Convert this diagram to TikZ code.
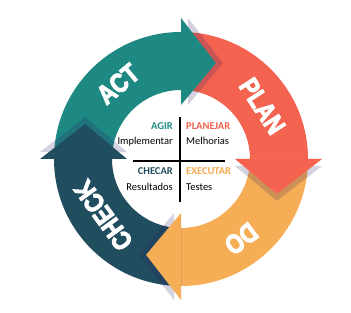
\documentclass[tikz,border=0pt]{standalone}
\usepackage{fontspec}
\setmainfont{Carlito}
\newfontfamily\headfont{Liberation Sans}[UprightFont=* Bold,FakeBold=3.5,FakeStretch=0.82]
\definecolor{actc}{HTML}{1E8882}
\definecolor{planc}{HTML}{F46250}
\definecolor{docol}{HTML}{F6AE56}
\definecolor{checkc}{HTML}{204E5F}
\definecolor{shadc}{HTML}{2A1E64}
\definecolor{agirt}{HTML}{1E8C87}
\definecolor{plant}{HTML}{F0604D}
\definecolor{chect}{HTML}{1F4E5E}
\definecolor{exect}{HTML}{F5AA4F}
\begin{document}
\begin{tikzpicture}[x=1pt,y=1pt,
  ringtext/.style={text=white,font=\headfont\fontsize{27}{27}\selectfont,inner sep=0pt},
  shad/.style={fill=shadc,fill opacity=0.2,draw=none},
  lbl/.style={font=\bfseries\fontsize{10.5}{12}\selectfont,inner sep=0pt},
  sublbl/.style={font=\fontsize{10.5}{12}\selectfont,inner sep=0pt,text=black},
  crossline/.style={draw=black,line width=1.5pt}]
\useasboundingbox (0,0) rectangle (351,313);
\fill[white] (0,0) rectangle (351,313);
\begin{scope}[shift={(181pt,154pt)}]
  % ring bodies
  \fill[actc] (180:127pt) arc[start angle=180,end angle=90,radius=127pt] -- (90:69pt) arc[start angle=90,end angle=180,radius=69pt] -- cycle;
  \fill[planc] (90:127pt) arc[start angle=90,end angle=0,radius=127pt] -- (0:69pt) arc[start angle=0,end angle=90,radius=69pt] -- cycle;
  \fill[docol] (0:127pt) arc[start angle=0,end angle=-90,radius=127pt] -- (-90:69pt) arc[start angle=-90,end angle=0,radius=69pt] -- cycle;
  \fill[checkc] (-90:127pt) arc[start angle=-90,end angle=-180,radius=127pt] -- (-180:69pt) arc[start angle=-180,end angle=-90,radius=69pt] -- cycle;
  % head shadows
  \fill[shad,shift={(7pt,0pt)}] (90:54pt) -- (90:141pt) -- (70:102pt) -- cycle;
  \fill[shad,shift={(0pt,-7pt)}] (0:54pt) -- (0:141pt) -- (-20:102pt) -- cycle;
  \fill[shad,shift={(-7pt,0pt)}] (-90:54pt) -- (-90:141pt) -- (-110:102pt) -- cycle;
  \fill[shad,shift={(0pt,7pt)}] (180:54pt) -- (180:141pt) -- (160:102pt) -- cycle;
  % heads
  \fill[actc] (90:54pt) -- (90:141pt) -- (70:102pt) -- cycle;
  \fill[planc] (0:54pt) -- (0:141pt) -- (-20:102pt) -- cycle;
  \fill[docol] (-90:54pt) -- (-90:141pt) -- (-110:102pt) -- cycle;
  \fill[checkc] (180:54pt) -- (180:141pt) -- (160:102pt) -- cycle;
  % ring labels
  \node[ringtext,rotate=40] (act) at (130:98pt) {ACT};
  \node[ringtext,rotate=-57] (plan) at (33:97pt) {PLAN};
  \node[ringtext,rotate=-143] (do) at (-53:100pt) {DO};
  \node[ringtext,rotate=126] (check) at (-144:96pt) {CHECK};
\end{scope}
% centre texts
\node[lbl,text=agirt,anchor=base east] (agir) at (173,183) {AGIR};
\node[sublbl,anchor=base east] (impl) at (173,168) {Implementar};
\node[lbl,text=chect,anchor=base east] (checar) at (173,138) {CHECAR};
\node[sublbl,anchor=base east] (resul) at (173,122) {Resultados};
\node[lbl,text=plant,anchor=base west] (planejar) at (186,183) {PLANEJAR};
\node[sublbl,anchor=base west] (melh) at (186,168) {Melhorias};
\node[lbl,text=exect,anchor=base west] (executar) at (186,138) {EXECUTAR};
\node[sublbl,anchor=base west] (testes) at (186,122) {Testes};
% cross
\coordinate (vt) at (180,196);
\coordinate (vb) at (180,111);
\coordinate (hl) at (133,152);
\coordinate (hr) at (225,152);
\draw[crossline] (vt) -- (vb);
\draw[crossline] (hl) -- (hr);
\end{tikzpicture}
\end{document}
